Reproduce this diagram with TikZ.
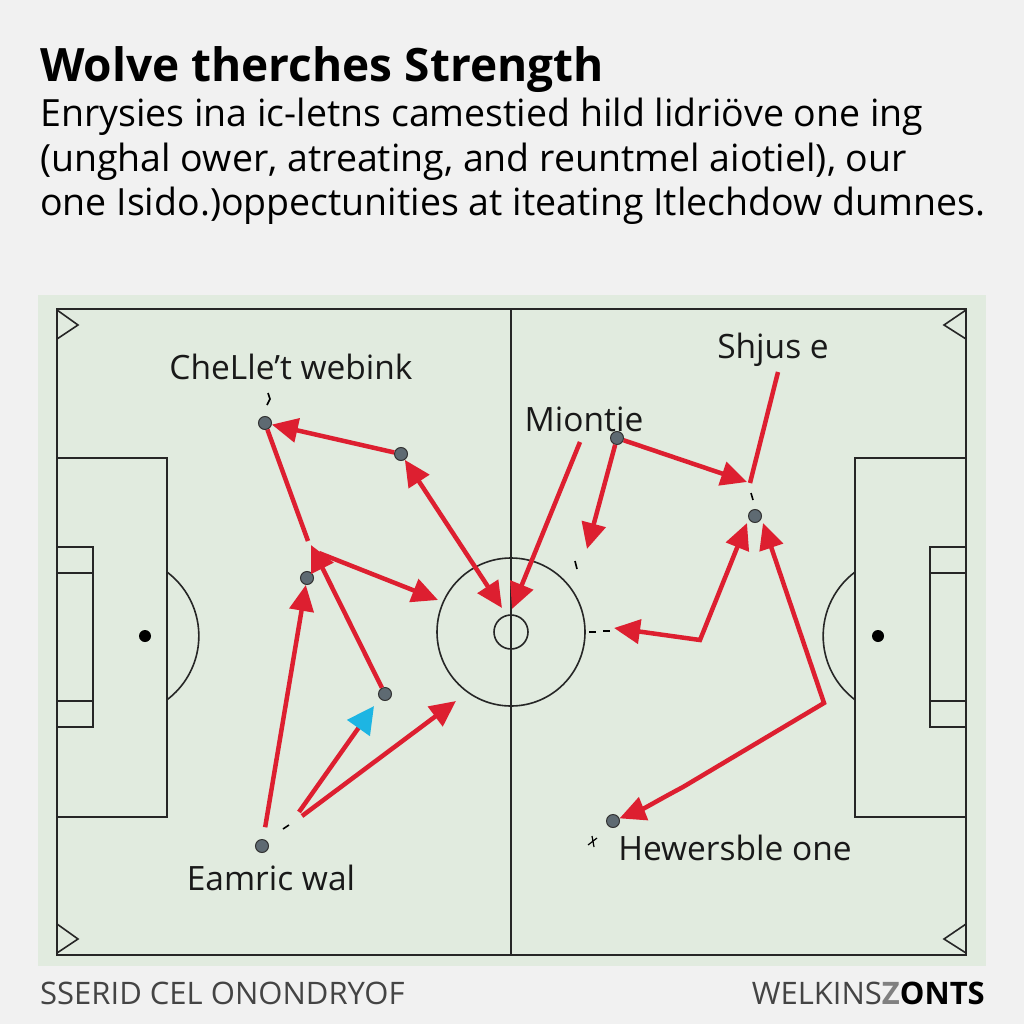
\documentclass[tikz,border=0pt]{standalone}
\usepackage{fontspec}
\setmainfont{Open Sans}
\usetikzlibrary{arrows.meta}

\definecolor{pagegray}{HTML}{F1F1F1}
\definecolor{pitchgreen}{HTML}{E1EBDF}
\definecolor{runred}{HTML}{DD1F30}
\definecolor{passblue}{HTML}{1DB5E3}
\definecolor{dotgray}{HTML}{5E6A72}
\definecolor{footgray}{HTML}{444444}

\tikzset{
  pitchline/.style={line width=1.6pt, draw=black!85},
  player/.style={circle, draw=black!80, fill=dotgray, line width=1pt,
    minimum size=13pt, inner sep=0pt},
  tag/.style={font=\fontsize{33.5}{40}\selectfont, text=black!90},
  runline/.style={draw=runred, line width=4.5pt},
  run/.style={runline, -{Triangle[length=26pt,width=24pt]}},
  runboth/.style={runline, {Triangle[length=26pt,width=24pt]}-{Triangle[length=26pt,width=24pt]}},
  pass/.style={runline, -{Triangle[length=27pt,width=27pt,color=passblue]}},
  tick/.style={draw=black, line width=1.6pt},
}

\begin{document}
\begin{tikzpicture}[x=1pt,y=-1pt]
    \useasboundingbox (0,0) rectangle (1024,1024);
    \fill[pagegray] (0,0) rectangle (1024,1024);

    % Heading
    \node[anchor=base west, inner sep=0pt, font=\fontsize{46}{52}\selectfont\bfseries] (title) at (40,82) {Wolve therches Strength};
    \node[anchor=base west, inner sep=0pt, font=\fontsize{37.5}{44}\selectfont] (line1) at (40,127) {Enrysies ina ic-letns camestied hild lidriöve one ing};
    \node[anchor=base west, inner sep=0pt, font=\fontsize{37.5}{44}\selectfont] (line2) at (40,172) {(unghal ower, atreating, and reuntmel aiotiel), our};
    \node[anchor=base west, inner sep=0pt, font=\fontsize{37.5}{44}\selectfont] (line3) at (40,216) {one Isido.)oppectunities at iteating Itlechdow dumnes.};

    % Drawing pitch
    \fill[pitchgreen] (38,295) rectangle (986,966);
    \draw[pitchline] (57,309) rectangle (966,955);
    \draw[pitchline] (511,309) -- (511,955);
    \draw[pitchline] (511,632) circle (74);
    \draw[pitchline] (511,632) circle (17);
    % Drawing boxes on both ends
    \draw[pitchline] (57,458) rectangle (167,817);
    \draw[pitchline] (57,547) rectangle (93,727);
    \draw[pitchline] (57,573) rectangle (93,701);
    \draw[pitchline] (855,458) rectangle (966,817);
    \draw[pitchline] (930,547) rectangle (966,727);
    \draw[pitchline] (930,573) rectangle (966,701);
    \draw[pitchline] (167,572) arc[start angle=-53, end angle=53, radius=80];
    \draw[pitchline] (855,572) arc[start angle=233, end angle=127, radius=80];
    \fill (145,636) circle (6);
    \fill (878,636) circle (6);
    % Drawing corner flags
    \foreach \y in {310,924}{
      \draw[pitchline] (57,\y) -- (78,\y + 15) -- (57,\y + 29);
      \draw[pitchline] (966,\y) -- (944,\y + 15) -- (966,\y + 29);
    }

    % Players
    \node[player] (chel) at (265,423) {};
    \node[player] (mid)  at (401,454) {};
    \node[player] (wing) at (307,578) {};
    \node[player] (back) at (385,694) {};
    \node[player] (eam)  at (262,846) {};
    \node[player] (mion) at (617,438) {};
    \node[player] (shj)  at (755,516) {};
    \node[player] (hew)  at (613,821) {};

    \node[tag] (chelname) at (291,367) {CheLle't webink};
    \node[tag] (eamname)  at (271,878) {Eamric wal};
    \node[tag] (mionname) at (584,419) {Miontie};
    \node[tag] (shjname)  at (773,350) {Shjus e};
    \node[tag] (hewname)  at (735,848) {Hewersble one};

    % Points the runs meet
    \coordinate (kneeA) at (308,541);
    \coordinate (kneeB) at (311,545);
    \coordinate (kneeC) at (319,553);
    \coordinate (ringW) at (438,600);
    \coordinate (ringN) at (502,608);
    \coordinate (ringM) at (512,609);
    \coordinate (ringE) at (614,628);
    \coordinate (eamA)  at (299,812);
    \coordinate (eamB)  at (302,816);
    \coordinate (passto) at (374,706);
    \coordinate (longto) at (456,701);
    \coordinate (mionA) at (580,442);
    \coordinate (mionB) at (587,549);
    \coordinate (shjA)  at (747,482);
    \coordinate (shjtop) at (778,372);
    \coordinate (shjfoot) at (750,483);
    \coordinate (bendE) at (700,640);
    \coordinate (bendS) at (824,703);
    \coordinate (bendW) at (683,787);

    % Drawing runs
    \draw[run] (mid) -- (chel);
    \draw[runline] (chel) -- (kneeA);
    \draw[run] (back) -- (kneeB);
    \draw[run] (kneeC) -- (ringW);
    \draw[run, shorten <=12pt] (eam) -- (wing);
    \draw[pass] (eamA) -- (passto);
    \draw[run] (eamB) -- (longto);
    \draw[runboth] (mid) -- (ringN);
    \draw[run] (mionA) -- (ringM);
    \draw[run] (mion) -- (mionB);
    \draw[run] (mion) -- (shjA);
    \draw[runline] (shjtop) -- (shjfoot);
    \draw[runboth] (ringE) -- (bendE) -- ([xshift=-8pt]shj.south);
    \draw[runboth] (hew) to[out=22, in=208] (bendW) -- (bendS) -- ([xshift=8pt]shj.south);

    % Small marks
    \draw[tick] (283,829) -- (289,825);
    \draw[tick] (575,561) -- (577,569);
    \draw[tick] (751,493) -- (753,500);
    \draw[tick] (589,632) -- (596,632);
    \draw[tick] (603,631) -- (610,631);
    \draw[tick] (268,393) -- (270,399) -- (267,405);
    \draw[tick, line width=1.2pt] (588,845) -- (597,838) (592,836) -- (594,847);

    % Footer
    \node[anchor=base west, inner sep=0pt, text=footgray, font=\fontsize{31}{36}\selectfont] (credit) at (40,1004) {SSERID CEL ONONDRYOF};
    \node[anchor=base east, inner sep=0pt, font=\fontsize{31}{36}\selectfont] (brand) at (985,1004) {\textcolor{footgray}{WELKINS}\textcolor{gray}{\textbf{Z}}\textbf{ONTS}};
\end{tikzpicture}
\end{document}
